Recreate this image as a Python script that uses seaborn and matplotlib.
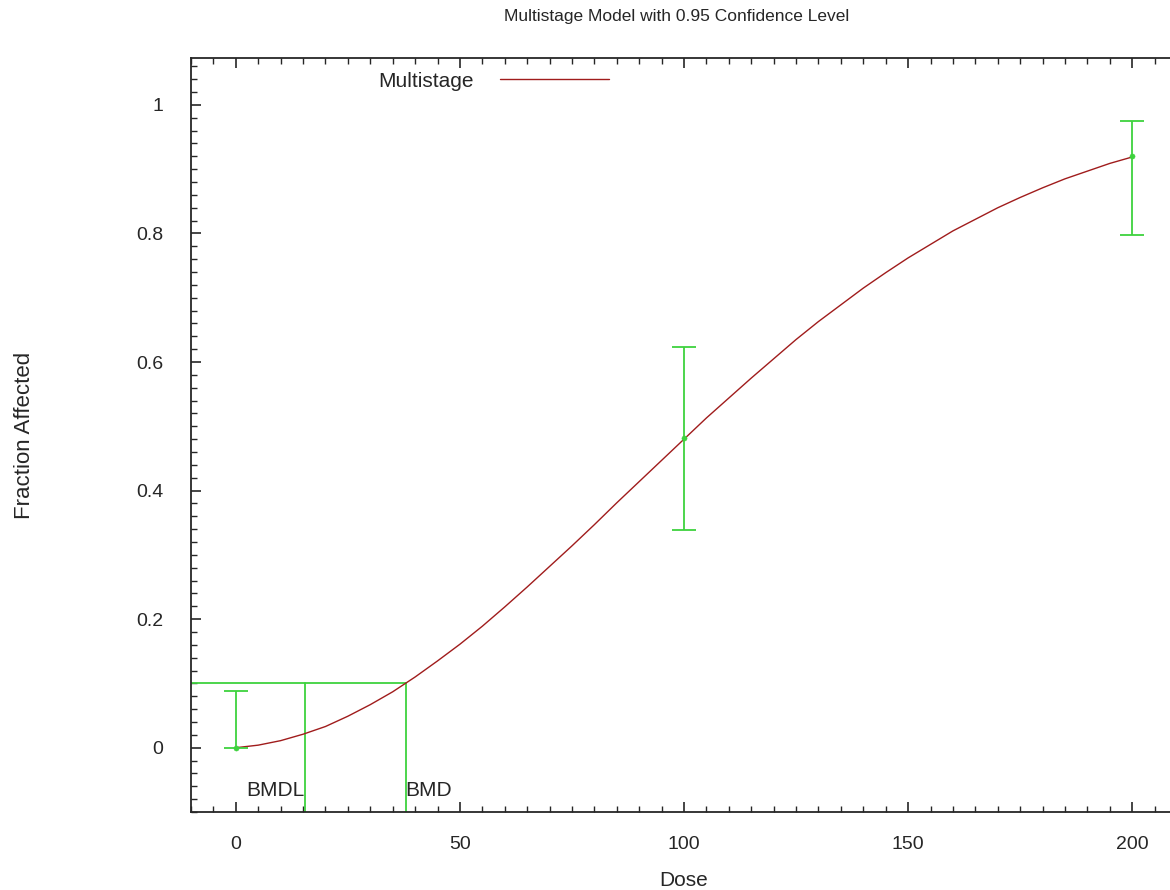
import matplotlib
matplotlib.use("Agg")
import matplotlib.pyplot as plt
from matplotlib.ticker import MultipleLocator
import seaborn as sns
import pandas as pd

# observed data
dose = [0, 100, 200]
frac = [0.0, 0.482, 0.921]
ci_low = [0.0, 0.338, 0.798]
ci_high = [0.089, 0.624, 0.975]

# fitted multistage curve
curve_dose = [0, 5, 10, 15, 20, 25, 30, 35, 40, 45, 50, 55, 60, 65, 70, 75, 80, 85, 90, 95, 100,
              105, 110, 115, 120, 125, 130, 135, 140, 145, 150, 155, 160, 165, 170, 175, 180,
              185, 190, 195, 200]
curve_frac = [0.0, 0.004, 0.011, 0.021, 0.033, 0.049, 0.067, 0.087, 0.110, 0.135, 0.161,
              0.189, 0.219, 0.250, 0.282, 0.314, 0.347, 0.381, 0.414, 0.447, 0.480,
              0.513, 0.544, 0.575, 0.605, 0.635, 0.663, 0.689, 0.715, 0.739, 0.762,
              0.783, 0.804, 0.822, 0.840, 0.856, 0.871, 0.885, 0.897, 0.909, 0.919]

bmr = 0.1
bmd = 37.9
bmdl = 15.4

sns.set_style("ticks")
plt.rcParams['font.family'] = ['Liberation Sans', 'DejaVu Sans']

fig = plt.figure(figsize=(11.7, 8.9), dpi=100)
ax = fig.add_axes([191/1170, 78/890, (1177-191)/1170, (812-58)/890])

green = "#3ed23e"
red = "#a01c1c"
txt = "#262626"

df_curve = pd.DataFrame({"Dose": curve_dose, "Fraction": curve_frac})
sns.lineplot(data=df_curve, x="Dose", y="Fraction", color=red, lw=1.0,
             ax=ax, label="Multistage", zorder=3)

yerr = [[f - lo for f, lo in zip(frac, ci_low)], [hi - f for f, hi in zip(frac, ci_high)]]
ax.errorbar(dose, frac, yerr=yerr, fmt="none", ecolor=green, elinewidth=1.3,
            capsize=8.5, capthick=1.3, zorder=4)
sns.scatterplot(x=dose, y=frac, color=green, s=14, edgecolor=green, ax=ax,
                zorder=5, legend=False)

# BMD / BMDL lines
ax.plot([-10, bmd], [bmr, bmr], color=green, lw=1.3, zorder=2)
ax.plot([bmd, bmd], [bmr, -0.1], color=green, lw=1.3, zorder=2)
ax.plot([bmdl, bmdl], [bmr, -0.1], color=green, lw=1.3, zorder=2)
ax.text(bmdl, -0.066, "BMDL", ha="right", va="center", fontsize=15, color=txt)
ax.text(bmd, -0.066, "BMD", ha="left", va="center", fontsize=15, color=txt)

ax.set_xlim(-10, 210)
ax.set_ylim(-0.1, 1.073)
ax.xaxis.set_major_locator(MultipleLocator(50))
ax.xaxis.set_minor_locator(MultipleLocator(5))
ax.yaxis.set_minor_locator(MultipleLocator(0.02))
ax.set_yticks([0, 0.2, 0.4, 0.6, 0.8, 1.0])
ax.set_yticklabels(["0", "0.2", "0.4", "0.6", "0.8", "1"])
ax.tick_params(which="both", direction="in", top=True, right=False, colors=txt,
               labelsize=14)
ax.tick_params(which="major", length=7, width=1.2, pad=17)
ax.tick_params(which="minor", length=4, width=1.0)
ax.tick_params(axis="y", which="major", pad=20)
for s in ax.spines.values():
    s.set_linewidth(1.3)
    s.set_color(txt)

ax.set_xlabel("Dose", fontsize=15, color=txt, labelpad=13)
ax.set_ylabel("Fraction Affected", fontsize=16, color=txt, labelpad=73)
fig.text(677/1170, 1 - 17/890, "Multistage Model with 0.95 Confidence Level",
         ha="center", va="center", fontsize=12.5, color=txt)

leg = ax.legend(loc="upper left", bbox_to_anchor=(359/1170, 1 - 53/890),
                bbox_transform=fig.transFigure, frameon=False, markerfirst=False,
                handlelength=5.2, handletextpad=1.3, fontsize=15)
for t in leg.get_texts():
    t.set_color(txt)

fig.savefig("out.png", dpi=100)
